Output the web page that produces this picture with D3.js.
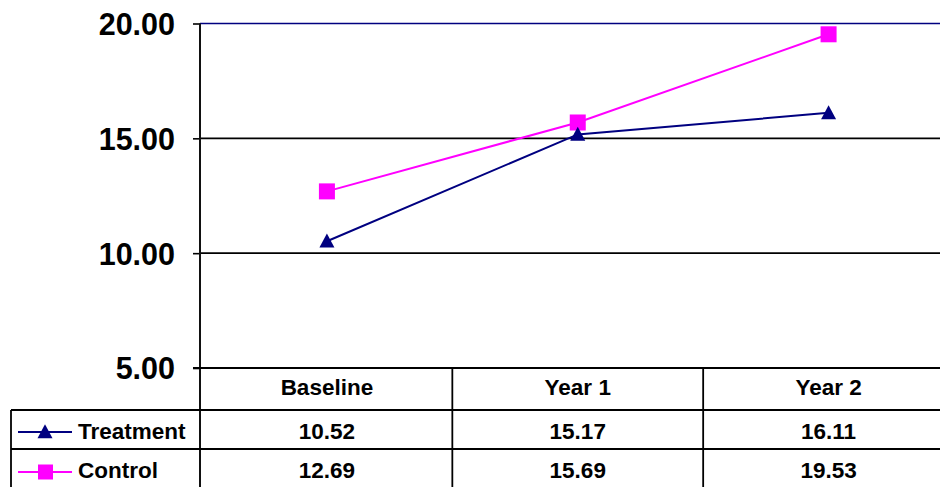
<!DOCTYPE html>
<html><head><meta charset="utf-8">
<script src="https://cdn.jsdelivr.net/npm/d3@7"></script>
<style>html,body{margin:0;padding:0;background:#fff;overflow:hidden}</style>
</head><body>
<svg id="c" width="940" height="487"></svg>
<script>
const categories = ["Baseline", "Year 1", "Year 2"];
const treatment = [10.52, 15.17, 16.11];
const control = [12.69, 15.69, 19.53];
const yTicks = [5, 10, 15, 20];
const seriesNames = ["Treatment", "Control"];

const svg = d3.select("#c");
const font = "'Liberation Sans', Arial, sans-serif";
const plotLeft = 200, plotRight = 953, plotTop = 23.5, plotBottom = 368;
const x = d3.scaleBand().domain(categories).range([201.5, 954]);
const y = d3.scaleLinear().domain([5, 20]).range([plotBottom, plotTop]);
const cx = c => x(c) + x.bandwidth() / 2;

// gridlines
svg.append("g").selectAll("line").data(yTicks.filter(t => t > 5)).join("line")
  .attr("x1", plotLeft).attr("x2", plotRight).attr("y1", d => y(d)).attr("y2", d => y(d))
  .attr("stroke", d => d === 20 ? "#000080" : "#000").attr("stroke-width", 1.6);

// y axis
const yAxis = d3.axisLeft(y).tickValues(yTicks).tickFormat(d3.format(".2f")).tickSize(7).tickPadding(18);
const ga = svg.append("g").attr("transform", `translate(${plotLeft},0)`).call(yAxis);
ga.select(".domain").remove();
ga.selectAll(".tick line").attr("stroke", "#000").attr("stroke-width", 1.6);
ga.selectAll(".tick text").attr("font-family", font).attr("font-weight", "bold")
  .attr("font-size", 30.5).attr("fill", "#000").attr("dy", "0.36em");
svg.append("line").attr("x1", plotLeft).attr("x2", plotLeft).attr("y1", plotTop).attr("y2", 490)
  .attr("stroke", "#111").attr("stroke-width", 2);

// lines
const line = d3.line().x((d, i) => cx(categories[i])).y(d => y(d));
svg.append("path").datum(control).attr("d", line).attr("fill", "none")
  .attr("stroke", "#FF00FF").attr("stroke-width", 2);
svg.append("path").datum(treatment).attr("d", line).attr("fill", "none")
  .attr("stroke", "#000080").attr("stroke-width", 2);

function tri(px, py, w, h) {
  return `M${px},${py - h * 0.55}L${px + w / 2},${py + h * 0.45}L${px - w / 2},${py + h * 0.45}Z`;
}
svg.append("g").selectAll("rect").data(control).join("rect")
  .attr("x", (d, i) => cx(categories[i]) - 8).attr("y", d => y(d) - 8)
  .attr("width", 16).attr("height", 16).attr("fill", "#FF00FF");
svg.append("g").selectAll("path").data(treatment).join("path")
  .attr("d", (d, i) => tri(cx(categories[i]), y(d), 15, 14)).attr("fill", "#000080");

// data table
const rowTops = [368, 410, 449, 488];
const tl = svg.append("g").attr("stroke", "#000").attr("stroke-width", 1.8);
tl.append("line").attr("x1", 193).attr("x2", 940).attr("y1", rowTops[0]).attr("y2", rowTops[0]);
tl.append("line").attr("x1", 11).attr("x2", 940).attr("y1", rowTops[1]).attr("y2", rowTops[1]);
tl.append("line").attr("x1", 11).attr("x2", 940).attr("y1", rowTops[2]).attr("y2", rowTops[2]);
tl.append("line").attr("x1", 11).attr("x2", 11).attr("y1", rowTops[1]).attr("y2", 490);
categories.slice(1).forEach(c => {
  tl.append("line").attr("x1", x(c)).attr("x2", x(c)).attr("y1", rowTops[0]).attr("y2", 490);
});

const txt = (sel, tx, ty, s, anchor) => sel.append("text").attr("x", tx).attr("y", ty)
  .attr("font-family", font).attr("font-weight", "bold").attr("font-size", 22.5)
  .attr("text-anchor", anchor || "middle").attr("fill", "#000").text(s);

categories.forEach(c => txt(svg, cx(c), 395, c));
const rows = [treatment, control];
const baselines = [439, 478];
rows.forEach((r, ri) => r.forEach((v, i) => txt(svg, cx(categories[i]), baselines[ri], d3.format(".2f")(v))));

// legend keys
const keyY = [432, 472];
svg.append("line").attr("x1", 18).attr("x2", 72).attr("y1", keyY[0]).attr("y2", keyY[0])
  .attr("stroke", "#000080").attr("stroke-width", 2);
svg.append("path").attr("d", tri(45, keyY[0], 15, 14)).attr("fill", "#000080");
svg.append("line").attr("x1", 18).attr("x2", 72).attr("y1", keyY[1]).attr("y2", keyY[1])
  .attr("stroke", "#FF00FF").attr("stroke-width", 2);
svg.append("rect").attr("x", 38).attr("y", keyY[1] - 7.5).attr("width", 15).attr("height", 15).attr("fill", "#FF00FF");
seriesNames.forEach((n, i) => txt(svg, 78, baselines[i], n, "start"));
</script>
</body></html>
